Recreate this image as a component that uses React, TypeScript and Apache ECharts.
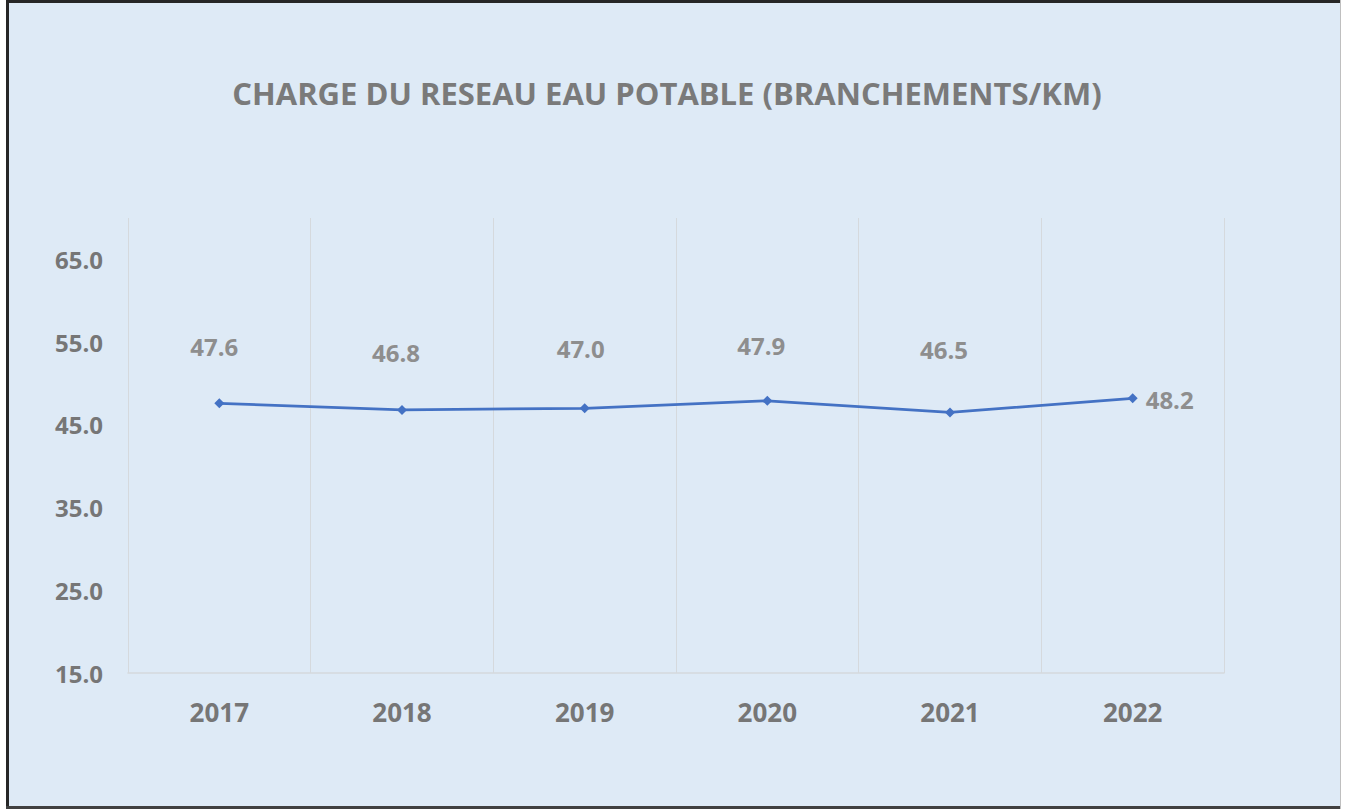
import React, { useEffect, useRef } from "react";
import * as echarts from "echarts";

const titleText = "CHARGE DU RESEAU EAU POTABLE (BRANCHEMENTS/KM)";
const years = ["2017", "2018", "2019", "2020", "2021", "2022"];
const chargeValues = [47.6, 46.8, 47.0, 47.9, 46.5, 48.2];
const yMin = 15;
const yMax = 70;
const yInterval = 10;

const labelOffsets: [number, number][] = [
  [-5, -35],
  [-6, -35],
  [-4, -38],
  [-6, -33],
  [-6, -41],
];

const FONT = "'Open Sans', 'Noto Sans', sans-serif";

export default function App() {
  const ref = useRef<HTMLDivElement>(null);

  useEffect(() => {
    document.body.style.margin = "0";
    const chart = echarts.init(ref.current!, undefined, { renderer: "svg" });
    const data = chargeValues.map((v, i) => {
      if (i === chargeValues.length - 1) {
        return {
          value: v,
          label: { position: "right", distance: 8, offset: [0, 1] },
        };
      }
      return {
        value: v,
        label: { position: "top", distance: 5, offset: labelOffsets[i] },
      };
    });

    chart.setOption({
      animation: false,
      backgroundColor: "#ffffff",
      graphic: [
        {
          type: "rect",
          z: -10,
          shape: { x: 6, y: 0, width: 1335, height: 809 },
          style: { fill: "#DEEAF6" },
        },
        { type: "rect", z: -9, shape: { x: 6, y: 0, width: 1335, height: 3 }, style: { fill: "#262626" } },
        { type: "rect", z: -9, shape: { x: 6, y: 0, width: 3, height: 809 }, style: { fill: "#262626" } },
        { type: "rect", z: -9, shape: { x: 6, y: 806, width: 1335, height: 3 }, style: { fill: "#404040" } },
        { type: "rect", z: -9, shape: { x: 1340, y: 0, width: 1, height: 809 }, style: { fill: "#BFBFBF" } },
      ],
      title: {
        text: titleText,
        left: 662,
        top: 72,
        textAlign: "center",
        textStyle: {
          fontFamily: FONT,
          fontWeight: "bold",
          fontSize: 31,
          color: "#7A7A7A",
        },
      },
      grid: { left: 128, right: 121, top: 218, bottom: 136, containLabel: false },
      xAxis: {
        type: "category",
        data: years,
        boundaryGap: true,
        axisLine: { show: true, lineStyle: { color: "#D5D9DD", width: 1.5 } },
        axisTick: { show: false },
        splitLine: { show: true, lineStyle: { color: "#D5D9DD", width: 1 } },
        axisLabel: {
          margin: 26,
          fontFamily: FONT,
          fontWeight: "bold",
          fontSize: 26,
          color: "#767676",
        },
      },
      yAxis: {
        type: "value",
        min: yMin,
        max: yMax,
        interval: yInterval,
        axisLine: { show: false },
        axisTick: { show: false },
        splitLine: { show: false },
        axisLabel: {
          showMaxLabel: false,
          margin: 25,
          fontFamily: FONT,
          fontWeight: "bold",
          fontSize: 24,
          color: "#767676",
          formatter: (v: number) => v.toFixed(1),
        },
      },
      series: [
        {
          type: "line",
          data,
          symbol: "diamond",
          symbolSize: 10,
          lineStyle: { color: "#4472C4", width: 2.75 },
          itemStyle: { color: "#4472C4" },
          label: {
            show: true,
            fontFamily: FONT,
            fontWeight: "bold",
            fontSize: 24,
            color: "#8E8E8E",
            formatter: (p: any) => Number(p.value).toFixed(1),
          },
        },
      ],
    });
    return () => chart.dispose();
  }, []);

  return <div ref={ref} style={{ width: 1345, height: 809 }} />;
}
